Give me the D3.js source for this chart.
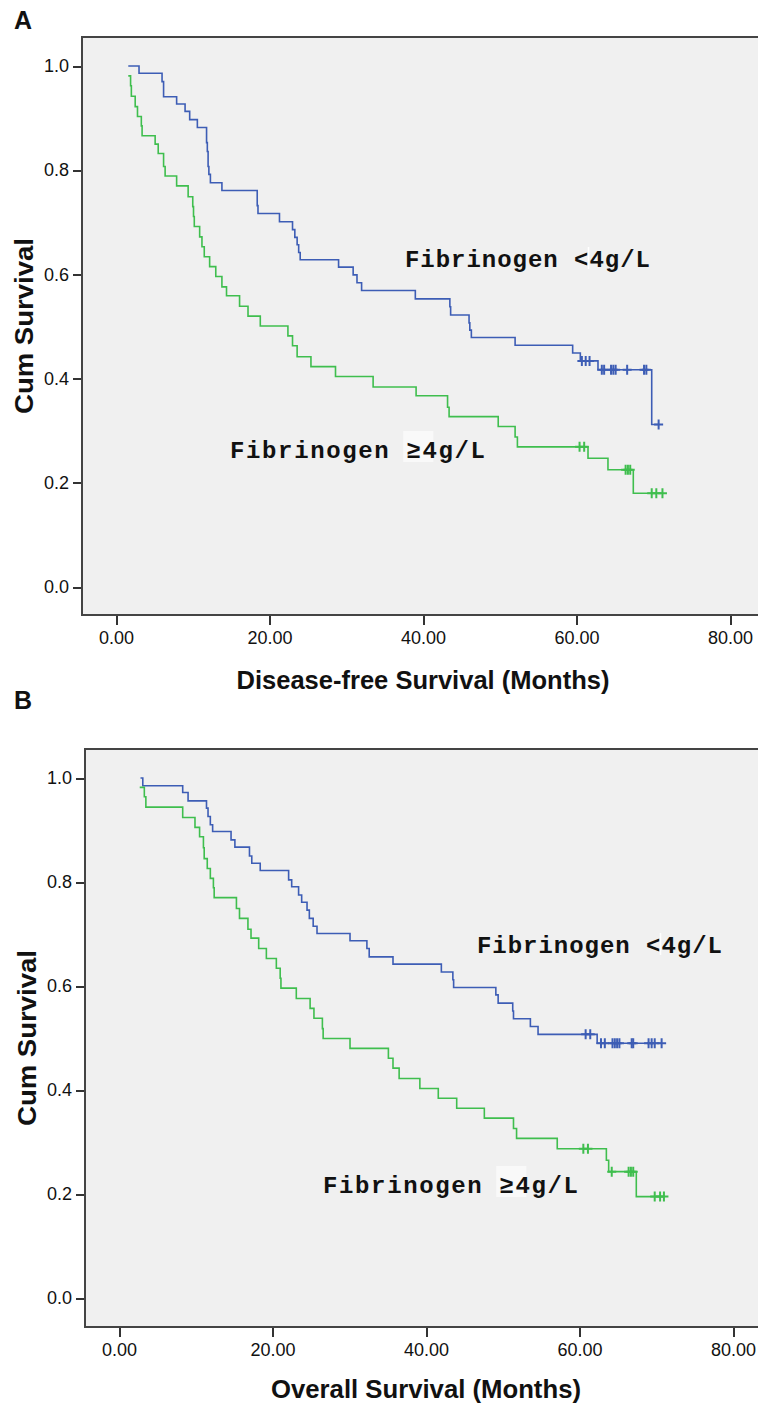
<!DOCTYPE html>
<meta charset="utf-8">
<style>
    body { margin: 0; background: #fff; }
    svg { display: block; }
    .axis text { font-family: "Liberation Sans", Arial, sans-serif; font-size: 18px; fill: #111; }
    .axis line { stroke: #333; stroke-width: 2; shape-rendering: crispEdges; }
    .title { font-family: "Liberation Sans", Arial, sans-serif; font-weight: bold; font-size: 25px; fill: #111; }
    .note { font-family: "Liberation Mono", "DejaVu Sans Mono", monospace; font-weight: bold; font-size: 24px; fill: #111; }
</style>

<svg width="758" height="1407"></svg>

<script src="https://cdn.jsdelivr.net/npm/d3@7/dist/d3.min.js"></script>

<script>
    // tick values
    var xTicks = [0, 20, 40, 60, 80];
    var yTicks = [0, 0.2, 0.4, 0.6, 0.8, 1.0];

    // A: disease-free survival, fibrinogen < 4 g/L (first entry = start of curve)
    var dfsLowTimes = [1.6, 3.0, 6.0, 6.2, 7.9, 9.0, 9.6, 10.6, 11.8, 11.9, 12.0, 12.1, 12.3, 13.8,
        18.4, 18.5, 21.3, 23.0, 23.3, 23.6, 23.8, 24.0, 29.0, 30.9, 31.4, 32.0, 39.0,
        43.5, 43.6, 46.0, 46.1, 46.3, 52.0, 59.5, 60.5, 62.8, 69.8];
    var dfsLowSurv = [1.0, 0.986, 0.970, 0.941, 0.927, 0.913, 0.897, 0.882, 0.853, 0.836, 0.807, 0.792, 0.776, 0.761,
        0.732, 0.717, 0.701, 0.686, 0.671, 0.657, 0.642, 0.628, 0.614, 0.599, 0.584, 0.569, 0.553,
        0.538, 0.522, 0.507, 0.493, 0.479, 0.464, 0.449, 0.434, 0.417, 0.312];
    var dfsLowCensor = [60.7, 61.2, 61.7, 63.3, 63.6, 64.5, 64.8, 65.1, 66.6, 68.8, 69.1, 70.7];

    // A: disease-free survival, fibrinogen >= 4 g/L
    var dfsHighTimes = [1.6, 1.9, 2.0, 2.5, 2.8, 3.3, 3.4, 5.1, 5.5, 6.2, 6.4, 7.9, 9.4, 10.0, 10.1, 10.2,
        10.9, 11.2, 11.5, 12.2, 13.0, 13.8, 14.4, 16.1, 17.2, 18.8, 22.4, 23.0, 23.6, 25.4,
        28.6, 33.5, 39.1, 43.2, 43.4, 49.8, 52.0, 52.3, 61.5, 64.1, 67.4];
    var dfsHighSurv = [0.981, 0.962, 0.942, 0.922, 0.903, 0.885, 0.866, 0.850, 0.832, 0.807, 0.789, 0.770, 0.749, 0.730, 0.711, 0.692,
        0.672, 0.653, 0.634, 0.615, 0.596, 0.576, 0.559, 0.539, 0.520, 0.501, 0.482, 0.463, 0.442, 0.423,
        0.404, 0.384, 0.367, 0.345, 0.327, 0.308, 0.288, 0.269, 0.247, 0.225, 0.180];
    var dfsHighCensor = [60.4, 61.0, 66.4, 66.7, 67.0, 69.8, 70.4, 71.2];

    // B: overall survival, fibrinogen < 4 g/L
    var osLowTimes = [2.8, 3.1, 8.3, 9.0, 11.4, 11.6, 11.9, 12.2, 14.6, 15.1, 17.0, 17.3, 18.4, 22.1, 22.5,
        23.4, 23.8, 24.5, 24.8, 25.3, 25.8, 30.1, 32.3, 32.6, 35.7, 42.0, 43.5, 43.6, 49.1, 49.4,
        51.3, 51.4, 53.6, 54.6, 62.3];
    var osLowSurv = [1.0, 0.985, 0.972, 0.956, 0.942, 0.926, 0.910, 0.897, 0.881, 0.867, 0.850, 0.836, 0.822, 0.804, 0.791,
        0.775, 0.761, 0.746, 0.730, 0.715, 0.701, 0.687, 0.672, 0.656, 0.642, 0.627, 0.612, 0.597, 0.583, 0.567,
        0.552, 0.537, 0.522, 0.507, 0.490];
    var osLowCensor = [60.8, 61.4, 62.8, 63.3, 64.3, 64.6, 64.9, 65.2, 66.8, 67.0, 69.0, 69.4, 69.8, 70.7];

    // B: overall survival, fibrinogen >= 4 g/L
    var osHighTimes = [2.7, 3.3, 3.5, 8.3, 9.9, 10.5, 11.0, 11.1, 11.5, 11.9, 12.3, 12.4, 15.3, 15.7, 16.8,
        17.2, 18.2, 19.2, 20.5, 21.0, 21.1, 23.1, 24.9, 25.4, 26.5, 26.6, 30.1, 35.1, 35.7, 36.5,
        39.2, 41.6, 44.0, 47.6, 51.4, 51.8, 57.1, 63.5, 63.8, 67.4];
    var osHighSurv = [0.982, 0.964, 0.944, 0.924, 0.905, 0.887, 0.866, 0.845, 0.826, 0.807, 0.789, 0.770, 0.749, 0.730, 0.709,
        0.692, 0.672, 0.653, 0.634, 0.615, 0.596, 0.576, 0.557, 0.538, 0.518, 0.499, 0.480, 0.461, 0.442, 0.422,
        0.403, 0.384, 0.365, 0.346, 0.326, 0.307, 0.287, 0.265, 0.243, 0.195];
    var osHighCensor = [60.5, 61.1, 64.2, 66.4, 66.7, 67.0, 69.8, 70.5, 71.0];

    var blue = "#3d5db5",
        green = "#3fbe4e";

    var svg = d3.select("svg");

    var panels = [
        {
            label: "A", labelY: 29,
            left: 82, top: 37, bottom: 615,
            xRange: [116, 730], yRange: [587, 66],
            xTitle: "Disease-free Survival (Months)", xTitleY: 689, xTitleW: 373, yTitleX: 33,
            series: [
                {t: dfsLowTimes, s: dfsLowSurv, c: dfsLowCensor, color: blue},
                {t: dfsHighTimes, s: dfsHighSurv, c: dfsHighCensor, color: green}
            ],
            notes: [
                {x: 405, y: 267, w: 245, sym: "<"},
                {x: 230, y: 458, w: 255, sym: "\u2265"}
            ]
        },
        {
            label: "B", labelY: 709,
            left: 85, top: 749, bottom: 1327,
            xRange: [119, 733], yRange: [1298, 778],
            xTitle: "Overall Survival (Months)", xTitleY: 1398, xTitleW: 310, yTitleX: 36,
            series: [
                {t: osLowTimes, s: osLowSurv, c: osLowCensor, color: blue},
                {t: osHighTimes, s: osHighSurv, c: osHighCensor, color: green}
            ],
            notes: [
                {x: 477, y: 953, w: 245, sym: "<"},
                {x: 323, y: 1193, w: 255, sym: "\u2265"}
            ]
        }
    ];

    panels.forEach(function (p) {
        var x = d3.scaleLinear().domain([0, 80]).range(p.xRange),
            y = d3.scaleLinear().domain([0, 1]).range(p.yRange),
            g = svg.append("g");

        // plot frame
        g.append("rect")
            .attr("x", p.left)
            .attr("y", p.top)
            .attr("width", 758 - p.left + 10)
            .attr("height", p.bottom - p.top)
            .attr("fill", "#f0f0f0")
            .attr("stroke", "#444")
            .attr("stroke-width", 2);

        g.append("text")
            .attr("class", "title")
            .attr("x", 14)
            .attr("y", p.labelY)
            .text(p.label);

        var xAxis = d3.axisBottom(x).tickValues(xTicks).tickFormat(d3.format(".2f"))
                .tickSize(9).tickSizeOuter(0).tickPadding(6),
            yAxis = d3.axisLeft(y).tickValues(yTicks).tickFormat(d3.format(".1f"))
                .tickSize(8).tickSizeOuter(0).tickPadding(4);

        g.append("g")
            .attr("class", "axis")
            .attr("transform", "translate(0," + (p.bottom + 1) + ")")
            .call(xAxis)
            .call(function (a) { a.select(".domain").remove(); });
        g.append("g")
            .attr("class", "axis")
            .attr("transform", "translate(" + (p.left - 1) + ",0)")
            .call(yAxis)
            .call(function (a) { a.select(".domain").remove(); });

        g.append("text")
            .attr("class", "title")
            .attr("x", x(40) - p.xTitleW / 2)
            .attr("y", p.xTitleY)
            .attr("textLength", p.xTitleW)
            .attr("lengthAdjust", "spacingAndGlyphs")
            .text(p.xTitle);
        g.append("text")
            .attr("class", "title")
            .attr("transform", "translate(" + p.yTitleX + "," + ((p.top + p.bottom) / 2) + ") rotate(-90)")
            .attr("x", -88)
            .attr("textLength", 176)
            .attr("lengthAdjust", "spacingAndGlyphs")
            .text("Cum Survival");

        var line = d3.line()
            .x(function (d) { return x(d[0]); })
            .y(function (d) { return y(d[1]); })
            .curve(d3.curveStepAfter);

        p.series.forEach(function (sr) {
            var pts = sr.t.map(function (t, i) { return [t, sr.s[i]]; }),
                last = sr.s[sr.s.length - 1];
            pts.push([d3.max(sr.c), last]);

            g.append("path")
                .attr("d", line(pts))
                .attr("fill", "none")
                .attr("stroke", sr.color)
                .attr("stroke-width", 1.6);

            var find = d3.bisector(function (d) { return d; }).right;
            g.selectAll(null)
                .data(sr.c)
                .enter()
                .append("path")
                .attr("d", function (d) {
                    var cx = x(d), cy = y(sr.s[find(sr.t, d) - 1]);
                    return "M" + (cx - 4.5) + "," + cy + "H" + (cx + 4.5) + "M" + cx + "," + (cy - 5) + "V" + (cy + 5);
                })
                .attr("stroke", sr.color)
                .attr("stroke-width", 2)
                .attr("fill", "none");
        });

        p.notes.forEach(function (n) {
            var charW = n.w / 16;
            if (n.sym !== "<") {
                g.append("rect")
                    .attr("x", n.x + charW * 11 - 2)
                    .attr("y", n.y - 27)
                    .attr("width", charW + 14)
                    .attr("height", 31)
                    .attr("fill", "#f9f9f9");
            }
            var t = g.append("text")
                .attr("class", "note")
                .attr("x", n.x)
                .attr("y", n.y)
                .attr("textLength", n.w)
                .attr("lengthAdjust", "spacing");
            t.append("tspan").text("Fibrinogen ");
            t.append("tspan").text(n.sym);
            t.append("tspan").text("4g/L");
            if (n.sym === "<") {
                g.append("rect")
                    .attr("x", n.x + charW * 12 - 1)
                    .attr("y", n.y - 20)
                    .attr("width", 1.5)
                    .attr("height", 22)
                    .attr("fill", "#ffffff");
            }
        });
    });
</script>
